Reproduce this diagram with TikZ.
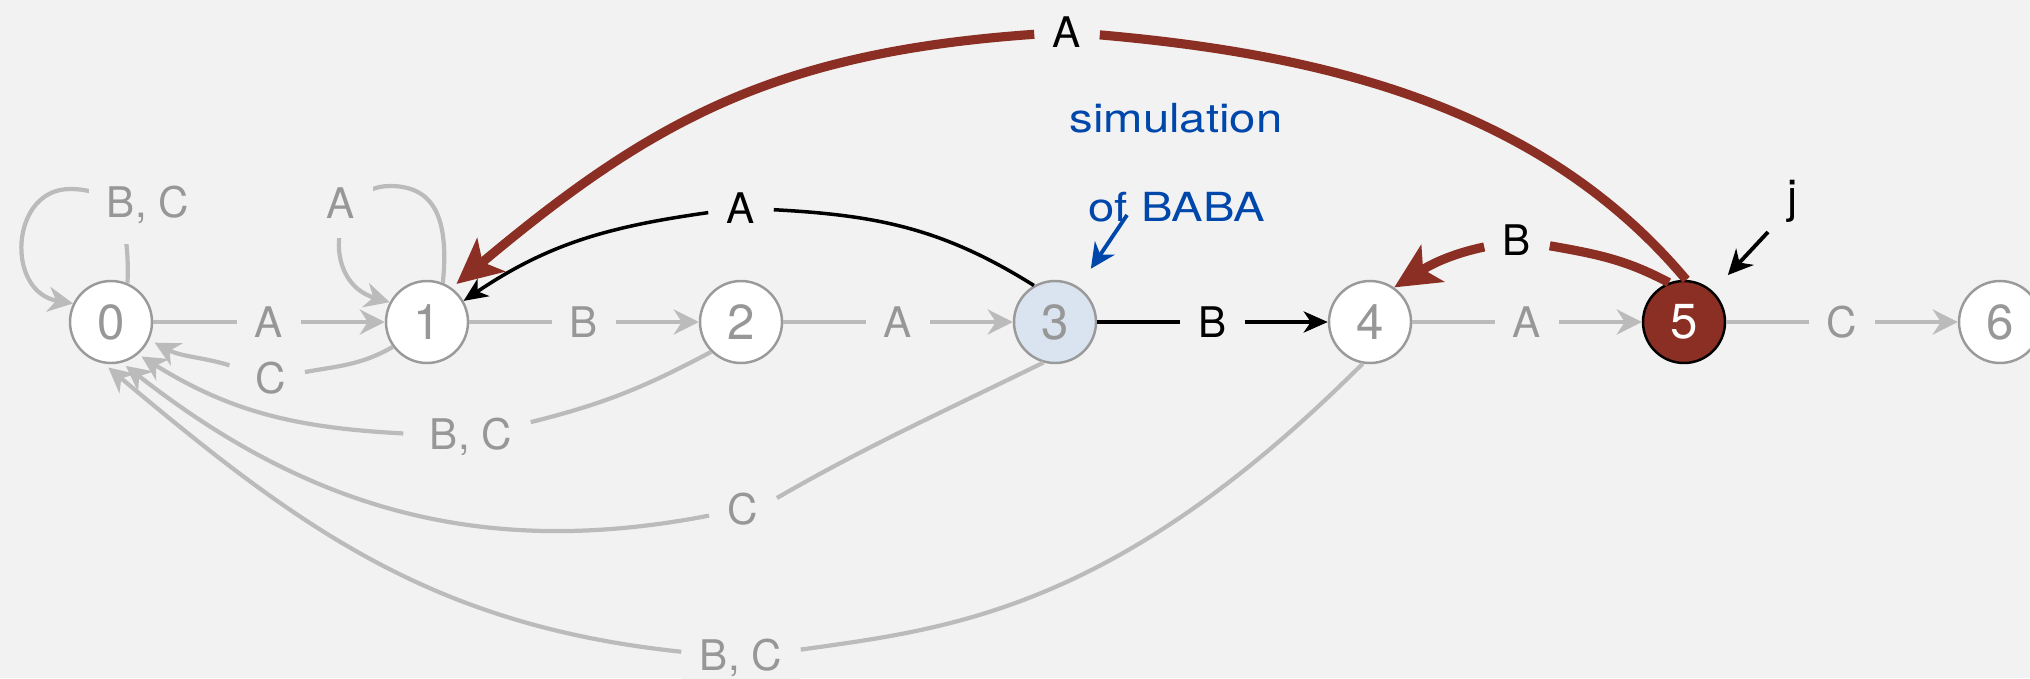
\documentclass[tikz,border=0pt]{standalone}
\usepackage{fontspec}
\setmainfont{TeX Gyre Heros}
\newfontfamily\widefont{TeX Gyre Heros}[FakeStretch=1.18]
\usetikzlibrary{arrows.meta}
\definecolor{bg}{HTML}{F2F2F2}
\definecolor{edgegray}{HTML}{BBBBBB}
\definecolor{txtgray}{HTML}{979797}
\definecolor{ringgray}{HTML}{9A9A9A}
\definecolor{darkred}{HTML}{8B2E23}
\definecolor{simblue}{HTML}{0047AB}
\definecolor{curblue}{HTML}{DAE3F0}
\begin{document}
\begin{tikzpicture}[x=1cm, y=1cm,
	state/.style={circle, draw=ringgray, line width=0.7pt, fill=white, minimum size=0.82cm, inner sep=0pt, text=txtgray, font=\fontsize{14}{16}\selectfont},
	lab/.style={fill=bg, inner xsep=0.18cm, inner ysep=0.08cm, text=txtgray, font=\fontsize{12}{14}\selectfont},
	blab/.style={lab, text=black},
	looplab/.style={lab, inner ysep=0.2cm},
	gedge/.style={draw=edgegray, line width=1.2pt, -{Stealth[length=2.5mm, width=2.5mm, inset=0.8mm]}},
	kedge/.style={draw=black, line width=1pt, -{Stealth[length=2.4mm, width=2.1mm, inset=0.7mm]}},
	redge/.style={draw=darkred, line width=2.6pt, -{Stealth[length=4.5mm, width=4.3mm, inset=1.1mm]}},
	ptr/.style={line width=1.1pt, shorten >=0.22cm, -{Stealth[length=2.5mm, width=2.4mm, inset=0.8mm]}},
	note/.style={text=simblue, font=\widefont\fontsize{11.4}{13}\selectfont}]
	% 0. 背景
	\fill[bg] (0,-3.56) rectangle (20.30,3.22);
	\useasboundingbox (0,-3.56) rectangle (20.30,3.22);
	
	% 1. 状态
	\node[state] (n0) at (1.11,0) {0};
	\node[state] (n1) at (4.27,0) {1};
	\node[state] (n2) at (7.41,0) {2};
	\node[state, fill=curblue] (n3) at (10.55,0) {3};
	\node[state] (n4) at (13.70,0) {4};
	\node[state, draw=black, fill=darkred, text=white] (n5) at (16.84,0) {5};
	\node[state] (n6) at (20.00,0) {6};
	
	% 2. 匹配边
	\draw[gedge] (n0) -- node[lab] (a01) {A} (n1);
	\draw[gedge] (n1) -- node[lab] (b12) {B} (n2);
	\draw[gedge] (n2) -- node[lab] (a23) {A} (n3);
	\draw[kedge, line width=1.3pt] (n3) -- node[blab] (b34) {B} (n4);
	\draw[gedge] (n4) -- node[lab] (a45) {A} (n5);
	\draw[gedge] (n5) -- node[lab] (c56) {C} (n6);
	
	% 3. 自环
	\draw[gedge] (n0.67) .. controls (1.30,1.05) and (1.15,1.33) .. (0.70,1.33)
		.. controls (0.10,1.33) and (0.05,0.30) .. (n0.154);
	\node[looplab] (bc00) at (1.48,1.17) {B, C};
	\draw[gedge] (n1.68) .. controls (4.50,1.10) and (4.30,1.36) .. (3.90,1.36)
		.. controls (3.30,1.36) and (3.20,0.40) .. (n1.152);
	\node[looplab] (a11) at (3.41,1.19) {A};
	
	% 4. 回到 0 的边
	\node[lab] (c10) at (2.71,-0.56) {C};
	\node[lab] (bc20) at (4.71,-1.15) {B, C};
	\node[lab] (c30) at (7.43,-1.87) {C};
	\node[lab] (bc40) at (7.41,-3.36) {B, C};
	\draw[gedge, shorten <=0.8mm, shorten >=0.6mm] (n1.-144) to[out=-150, in=10] (c10) to[out=163, in=-28] (n0.-25);
	\draw[gedge, shorten <=0.8mm, shorten >=0.4mm] (n2.-135) to[out=-152, in=14] (bc20) to[out=177, in=-32] (n0.-50);
	\draw[gedge, shorten >=0.5mm] (n3.-106) .. controls +(-154:1.2) and +(30:1.0) .. (c30.18)
		(c30.191) .. controls +(191:2.34) and +(-38:2.34) .. (n0.-75);
	\draw[gedge, shorten >=0.6mm] (n4.-100) .. controls +(-135:3.5) and +(8:1.5) .. (bc40.8)
		(bc40) to[out=174, in=-40] (n0.-100);
	
	% 5. 模拟路径
	\node[blab] (a31) at (7.41,1.14) {A};
	\draw[kedge] (n3.120) to[out=148, in=-3] (a31) to[out=188, in=34] (n1.30);
	\node[blab] (a51) at (10.67,2.90) {A};
	\draw[redge, shorten >=0.6mm] (n5.87) .. controls +(130:2.26) and +(-5:2.26) .. (a51.-5)
		(a51.184) .. controls +(184:2.6) and +(40:2.6) .. (n1.54);
	\node[blab] (b54) at (15.17,0.82) {B};
	\draw[redge] (n5.111) to[out=152, in=-10] (b54) to[out=192, in=32] (n4.55);
	
	% 6. 注释
	\node[note] (sim) at (11.76,2.04) {simulation};
	\node[note] (baba) at (11.77,1.15) {of BABA};
	\coordinate (simfrom) at (11.27,1.07);
	\draw[ptr, simblue] (simfrom) -- (n3);
	\node[font=\fontsize{13}{15}\selectfont] (jlab) at (17.93,1.21) {j};
	\coordinate (jfrom) at (17.68,0.90);
	\draw[ptr] (jfrom) -- (n5);
\end{tikzpicture}
\end{document}
